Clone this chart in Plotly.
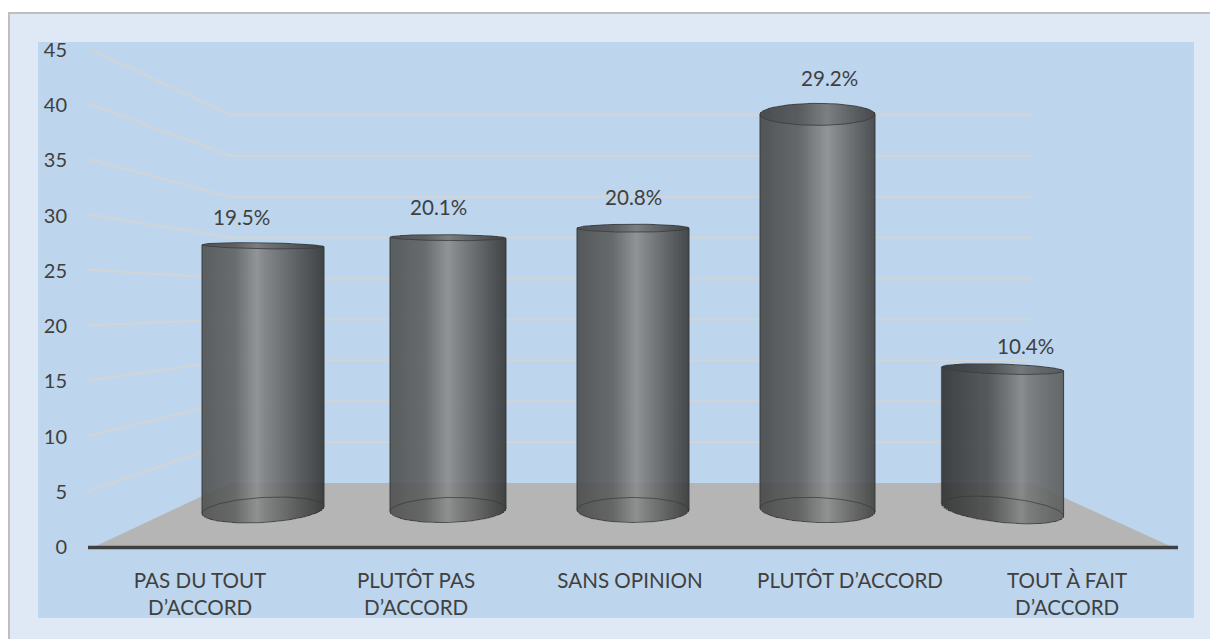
import numpy as np
import plotly.graph_objects as go

# ---- data ----
categories_line1 = ["PAS DU TOUT", "PLUTÔT PAS", "SANS OPINION", "PLUTÔT D’ACCORD", "TOUT À FAIT"]
categories_line2 = ["D’ACCORD", "D’ACCORD", "", "", "D’ACCORD"]
percent_values = [19.5, 20.1, 20.8, 29.2, 10.4]
y_ticks = [0, 5, 10, 15, 20, 25, 30, 35, 40, 45]

# ---- layout constants (pixels of the 1210x639 page) ----
W, H = 1210, 639
AX_L, AX_R, AX_T, AX_B = 88, 1178, 50, 547
PX_PER_X = (AX_R - AX_L) / 5
PX_PER_Y = (AX_B - AX_T) / 45
CYL_PX_PER_UNIT = 13.55
CYL_BASE_PX = 510
FONT = "Lato"
TEXT = "#404040"
LABEL_SIZE = 20.6

def x_of(px):
    return (px - AX_L) / PX_PER_X - 0.5
def y_of(px):
    return (AX_B - px) / PX_PER_Y
def px_h(px):
    return px / CYL_PX_PER_UNIT
def px_paper_x(px):
    return (px - AX_L) / (AX_R - AX_L)
def px_paper_y(px):
    return (AX_B - px) / (AX_B - AX_T)

BACK_L, BACK_R, BACK_0, BACK_STEP = 230, 1032, 483, 8.18
FRONT_STEP = 11.09

cyl_cx = [263, 448, 633, 817.5, 1002.5]
cyl_w = [122, 116, 112, 115, 122]
bot_ry = [12.5, 12.5, 12.5, 12.5, 12.5]
bot_tilt = [3.5, 1.5, 0, -2, -6]
top_ry = [3, 3, 4, 11, 5]
top_tilt = [-1, -0.5, 0, 0, -2]
grad_left = [76, 74, 70, 66, 44]
grad_high = [138, 138, 138, 140, 130]
grad_pos = [0.45, 0.5, 0.53, 0.58, 0.65]
grad_right = [46, 48, 52, 60, 88]
label_px = [241.5, 438, 633, 829, 1025]
label_offset_px = [29, 31, 31, 36, 23]
tick_px = [200, 416, 630, 850, 1067]
ALPHA = 0.88

fig = go.Figure()

# floor
fig.add_trace(go.Scatter(
    x=[x_of(96), x_of(BACK_L), x_of(BACK_R), x_of(1170), x_of(96)],
    y=[y_of(546), y_of(BACK_0), y_of(BACK_0), y_of(546), y_of(546)],
    mode="lines", fill="toself", fillcolor="#B5B5B5", line=dict(width=0),
    hoverinfo="skip", showlegend=False))

# walls' gridlines
for t in y_ticks[1:]:
    front = AX_B - t * FRONT_STEP
    back = BACK_0 - t * BACK_STEP
    fig.add_trace(go.Scatter(
        x=[x_of(AX_L), x_of(BACK_L), x_of(BACK_R)],
        y=[y_of(front), y_of(back), y_of(back)],
        mode="lines", line=dict(color="#D2D4D6", width=2),
        cliponaxis=False, hoverinfo="skip", showlegend=False))

# cylinders
for i, v in enumerate(percent_values):
    n = int(cyl_w[i] / 2)
    edges = np.linspace(-1, 1, n + 1)
    mids = (edges[:-1] + edges[1:]) / 2
    frac = (mids + 1) / 2
    p = grad_pos[i]
    gray = np.interp(frac, [0, p * 0.6, p - 0.06, p, p + 0.06, (1 + p) / 2 + 0.05, 1],
                     [grad_left[i], (grad_left[i] + grad_high[i]) / 2 - 14,
                      grad_high[i] - 14, grad_high[i], grad_high[i] - 14,
                      (grad_right[i] + grad_high[i]) / 2 - 12, grad_right[i]])
    colors = [f"rgba({g:.0f},{g+1:.0f},{g+1:.0f},{ALPHA})" for g in gray]
    half = cyl_w[i] / 2
    base = [px_h(bot_tilt[i] * u - bot_ry[i] * np.sqrt(1 - u * u)) for u in mids]
    top = [v + px_h(top_tilt[i] * u + top_ry[i] * np.sqrt(1 - u * u)) for u in mids]
    fig.add_trace(go.Bar(
        x=[x_of(cyl_cx[i] + half * u) for u in mids],
        y=[t - b for t, b in zip(top, base)],
        base=base,
        width=[2 * half / n / PX_PER_X] * n,
        marker=dict(color=colors, line=dict(width=0)),
        yaxis="y2", hoverinfo="skip", showlegend=False))

    th = np.linspace(0, 2 * np.pi, 90)
    cu, su = np.cos(th), np.sin(th)
    ex = [x_of(cyl_cx[i] + half * c) for c in cu]
    bot_y = [px_h(bot_tilt[i] * c - bot_ry[i] * s) for c, s in zip(cu, su)]
    top_y = [v + px_h(top_tilt[i] * c + top_ry[i] * s) for c, s in zip(cu, su)]
    fig.add_trace(go.Scatter(x=ex, y=bot_y, yaxis="y2", mode="lines",
                             line=dict(color="rgba(55,55,55,0.7)", width=1),
                             hoverinfo="skip", showlegend=False))
    fig.add_trace(go.Scatter(x=ex, y=top_y, yaxis="y2", mode="lines", fill="toself",
                             fillcolor="rgba(50,52,55,0.22)",
                             line=dict(color="rgba(60,62,65,0.85)", width=1),
                             hoverinfo="skip", showlegend=False))
    fig.add_trace(go.Scatter(
        x=[x_of(cyl_cx[i] - half), x_of(cyl_cx[i] - half), None,
           x_of(cyl_cx[i] + half), x_of(cyl_cx[i] + half)],
        y=[px_h(-bot_tilt[i]), v + px_h(-top_tilt[i]), None,
           px_h(bot_tilt[i]), v + px_h(top_tilt[i])],
        yaxis="y2", mode="lines", line=dict(color="rgba(55,58,60,0.8)", width=1.2),
        hoverinfo="skip", showlegend=False))

# value labels
annotations = []
for i, v in enumerate(percent_values):
    annotations.append(dict(
        x=x_of(label_px[i]), y=v, xref="x", yref="y2", text=f"{v:.1f}%",
        showarrow=False, yanchor="middle", yshift=label_offset_px[i],
        font=dict(family=FONT, size=LABEL_SIZE, color=TEXT)))
for i, t in enumerate(categories_line2):
    if t:
        annotations.append(dict(
            x=x_of(tick_px[i]), y=px_paper_y(607), xref="x", yref="paper", text=t,
            showarrow=False, yanchor="middle",
            font=dict(family=FONT, size=LABEL_SIZE, color=TEXT)))

shapes = [
    dict(type="rect", xref="paper", yref="paper", layer="below",
         x0=px_paper_x(9), x1=px_paper_x(1225), y0=px_paper_y(13), y1=px_paper_y(660),
         fillcolor="#DEE9F5", line=dict(color="#BFBFBF", width=2)),
    dict(type="rect", xref="paper", yref="paper", layer="below",
         x0=px_paper_x(38), x1=px_paper_x(1194), y0=px_paper_y(42), y1=px_paper_y(618),
         fillcolor="#BDD6ED", line=dict(width=0)),
    dict(type="line", xref="paper", yref="paper", layer="above",
         x0=0, x1=1, y0=px_paper_y(547.5), y1=px_paper_y(547.5),
         line=dict(color="#404040", width=3.5)),
]

fig.update_layout(
    width=W, height=H, autosize=False,
    margin=dict(l=AX_L, r=W - AX_R, t=AX_T, b=H - AX_B, pad=0),
    paper_bgcolor="white", plot_bgcolor="rgba(0,0,0,0)",
    barmode="overlay", bargap=0, showlegend=False,
    font=dict(family=FONT, size=LABEL_SIZE, color=TEXT),
    shapes=shapes, annotations=annotations,
    xaxis=dict(range=[-0.5, 4.5], tickmode="array",
               tickvals=[x_of(p) for p in tick_px], ticktext=categories_line1,
               showgrid=False, zeroline=False, showline=False, ticks="",
               ticklabelstandoff=19, tickangle=0,
               tickfont=dict(family=FONT, size=LABEL_SIZE, color=TEXT)),
    yaxis=dict(range=[0, 45], tickmode="array", tickvals=y_ticks,
               showgrid=False, zeroline=False, showline=False, ticks="",
               ticklabelstandoff=20,
               tickfont=dict(family=FONT, size=20, color=TEXT)),
    yaxis2=dict(overlaying="y", side="left",
                range=[-(AX_B - CYL_BASE_PX) / CYL_PX_PER_UNIT,
                       (CYL_BASE_PX - AX_T) / CYL_PX_PER_UNIT],
                showgrid=False, zeroline=False, showline=False,
                showticklabels=False, ticks=""),
)

fig.write_html("out.html", config=dict(displayModeBar=False),
               post_script="document.body.style.margin='0';document.body.style.overflow='hidden';")
